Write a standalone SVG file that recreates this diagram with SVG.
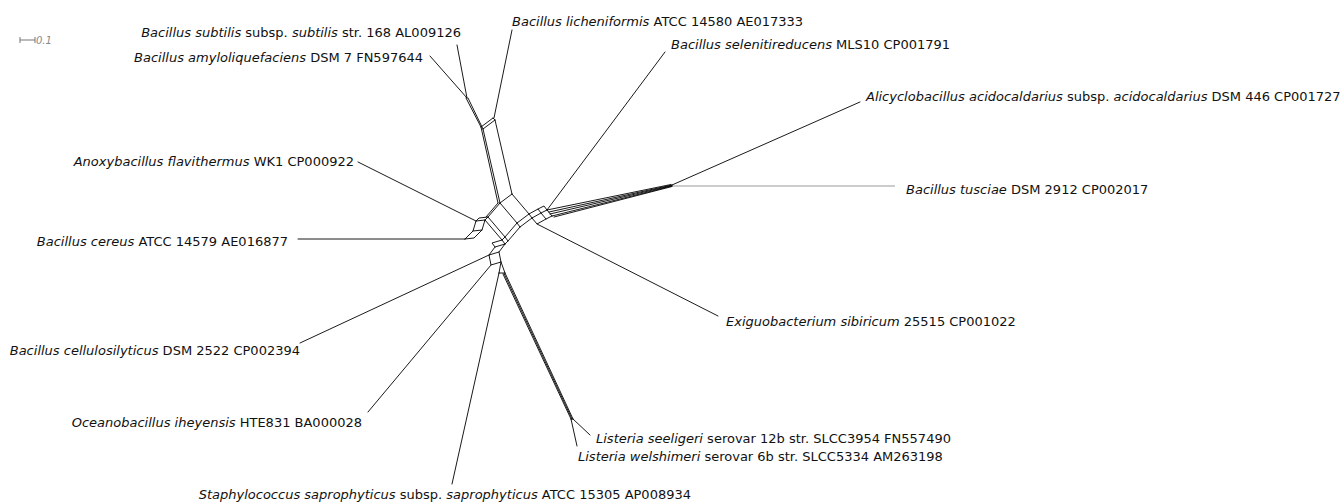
<svg xmlns="http://www.w3.org/2000/svg" width="1341" height="503" viewBox="0 0 1341 503">
<style>
text{font-family:"DejaVu Sans","Liberation Sans",sans-serif;font-size:13px;fill:#111}
.i{font-style:italic}
.e{stroke:#000;stroke-width:0.9;fill:none;stroke-linecap:round;stroke-linejoin:round}
.g{stroke:#999;stroke-width:1;fill:none}
.s{stroke:#777;stroke-width:1;fill:none}
</style>
<rect width="1341" height="503" fill="#fff"/>
<g id="scale">
<path class="s" d="M20,40H35M20,37V43M35,37V43"/>
<text x="36" y="44" style="font-size:10px;fill:#888;font-style:italic">0.1</text>
</g>
<g id="connectors">
<!-- leaders -->
<path class="e" d="M457,45L467,98M430,56L467,98M512,30L494,118M665,52L547,210M860,102L672,185M718,316L537,224M358,162L476,221M298,239L465,239M300,343L489,255M368,412L491,265M452,484L499,273M590,435L573,419M577,446L571,419"/>
<path class="g" d="M672,186L895,186"/>
<!-- top bundle -->
<path class="e" d="M466,98L481,127M468,98L483,129M481,127L493,118M483,129L495,120M493,118L495,120M481,127L498,203M483,129L500,203M495,120L512,194"/>
<!-- center grid -->
<path class="e" d="M500,203L512,194M517,223L529,214M520,227L532,218M512,194L529,214L532,218M500,203L517,223L520,227M488,217L505,237L508,241M485,220L502,240L505,244M500,203L488,217L485,220M517,223L505,237L502,240M520,227L508,241L505,244M498,203L486,217"/>
<!-- right cluster -->
<path class="e" d="M532,218L541,213L547,210M532,218L537,224L546,219L552,216M541,213L546,219M547,210L552,216M529,214L538,209L541,213M538,209L544,206L547,210"/>
<!-- long bundle -->
<path class="e" d="M547,210L671,184.5M549,212L672,185M550,214L672,185.5M552,216L672,186M554,217L672,186.5"/>
<!-- left cluster -->
<path class="e" d="M485,220L476,221L473,231L465,239M485,220L482,230L474,238L465,239M482,230L473,231M488,217L479,218L476,221"/>
<!-- bottom cluster -->
<path class="e" d="M505,244L499,252L489,255L491,265L501,262L499,252M505,244L495,247L489,255M502,240L492,243L495,247M501,262L499,273M501,262L505,273M499,273L505,273"/>
<!-- listeria bundle -->
<path class="e" d="M503,274L571,419M505,273L573,419M504,273.5L572,419M571,419L573,419"/>
</g>
<g id="n1"><text x="461" y="37" text-anchor="end"><tspan class="i">Bacillus subtilis</tspan> subsp. <tspan class="i">subtilis</tspan> str. 168 AL009126</text></g>
<g id="n2"><text x="423" y="62" text-anchor="end"><tspan class="i">Bacillus amyloliquefaciens</tspan> DSM 7 FN597644</text></g>
<g id="n3"><text x="512" y="26"><tspan class="i">Bacillus licheniformis</tspan> ATCC 14580 AE017333</text></g>
<g id="n4"><text x="671" y="49"><tspan class="i">Bacillus selenitireducens</tspan> MLS10 CP001791</text></g>
<g id="n5"><text x="866" y="101"><tspan class="i">Alicyclobacillus acidocaldarius</tspan> subsp. <tspan class="i">acidocaldarius</tspan> DSM 446 CP001727</text></g>
<g id="n6"><text x="906" y="194"><tspan class="i">Bacillus tusciae</tspan> DSM 2912 CP002017</text></g>
<g id="n7"><text x="354" y="166" text-anchor="end"><tspan class="i">Anoxybacillus flavithermus</tspan> WK1 CP000922</text></g>
<g id="n8"><text x="288" y="246" text-anchor="end"><tspan class="i">Bacillus cereus</tspan> ATCC 14579 AE016877</text></g>
<g id="n9"><text x="300" y="355" text-anchor="end"><tspan class="i">Bacillus cellulosilyticus</tspan> DSM 2522 CP002394</text></g>
<g id="n10"><text x="726" y="326"><tspan class="i">Exiguobacterium sibiricum</tspan> 25515 CP001022</text></g>
<g id="n11"><text x="362" y="427" text-anchor="end"><tspan class="i">Oceanobacillus iheyensis</tspan> HTE831 BA000028</text></g>
<g id="n12"><text x="596" y="443"><tspan class="i">Listeria seeligeri</tspan> serovar 12b str. SLCC3954 FN557490</text></g>
<g id="n13"><text x="578" y="461"><tspan class="i">Listeria welshimeri</tspan> serovar 6b str. SLCC5334 AM263198</text></g>
<g id="n14"><text x="691" y="499" text-anchor="end"><tspan class="i">Staphylococcus saprophyticus</tspan> subsp. <tspan class="i">saprophyticus</tspan> ATCC 15305 AP008934</text></g>
</svg>
